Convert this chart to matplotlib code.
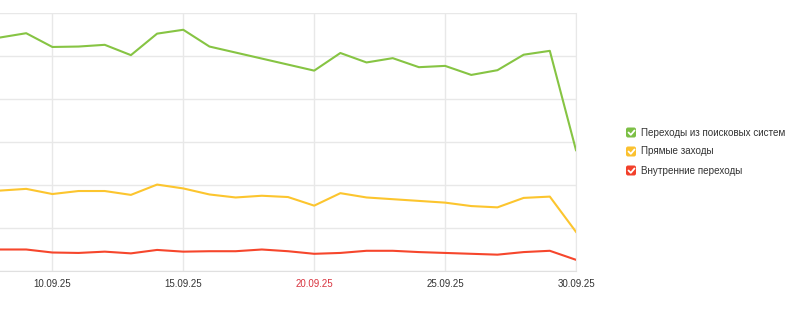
import numpy as np
import matplotlib.pyplot as plt
from matplotlib.patches import FancyBboxPatch

plt.rcParams['font.family'] = ['Liberation Sans', 'DejaVu Sans']

days = list(range(8, 31))
tick_days = [10, 15, 20, 25, 30]
tick_labels = ['10.09.25', '15.09.25', '20.09.25', '25.09.25', '30.09.25']
weekend_label = '20.09.25'

search = [543, 553, 521, 522, 526, 502, 552, 561, 522, 508, 494, 480, 466,
          507, 485, 495, 474, 477, 456, 467, 503, 512, 281]
direct = [187, 191, 179, 186, 186, 177, 201, 192, 178, 171, 175, 172, 152,
          181, 171, 167, 163, 159, 151, 148, 170, 173, 91]
internal = [50, 50, 43, 42, 45, 41, 49, 45, 46, 46, 50, 46, 40,
            42, 47, 47, 44, 42, 40, 38, 44, 47, 26]

names = ['Переходы из поисковых систем', 'Прямые заходы', 'Внутренние переходы']
colors = ['#86c443', '#fcc52e', '#f6462c']
box_colors = ['#7cbf45', '#fbc12f', '#f2402b']

fig = plt.figure(figsize=(8, 3.11), dpi=100)
ax = fig.add_axes([0, 40 / 311, 576 / 800, 258 / 311])

ax.plot(days, search, color=colors[0], lw=1.5)
ax.plot(days, direct, color=colors[1], lw=1.5)
ax.plot(days, internal, color=colors[2], lw=1.5)

ax.set_xlim(8, 30)
ax.set_ylim(0, 600)
ax.set_yticks(range(0, 601, 100))
ax.set_xticks(tick_days)
ax.set_xticklabels(tick_labels, fontsize=7, color='#333333')
for lbl in ax.get_xticklabels():
    if lbl.get_text() == weekend_label:
        lbl.set_color('#d9343f')
ax.tick_params(axis='x', length=0, pad=6)
ax.tick_params(axis='y', length=0, labelleft=False)
ax.grid(True, color='#e8e8e8', lw=1)
ax.set_axisbelow(True)
for s in ['left', 'top']:
    ax.spines[s].set_visible(False)
ax.spines['right'].set_color('#e8e8e8')
ax.spines['bottom'].set_color('#e0e0e0')

# legend with checkbox squares, drawn in pixel units
lax = fig.add_axes([0, 0, 1, 1])
lax.set_xlim(0, 800)
lax.set_ylim(311, 0)
lax.axis('off')
rows_y = [132.5, 151.5, 170.5]
for name, c, y in zip(names, box_colors, rows_y):
    lax.add_patch(FancyBboxPatch((626.5, y - 4.5), 9, 9,
                                 boxstyle='round,pad=0.5,rounding_size=2',
                                 fc=c, ec=c, lw=0))
    lax.plot([628.5, 630.8, 634.5], [y, y + 2.3, y - 2], color='white',
             lw=1.3, solid_capstyle='round', solid_joinstyle='round')
    lax.text(641, y, name, fontsize=7.1, color='#333333', va='center', ha='left')

fig.savefig('out.png', dpi=100)
